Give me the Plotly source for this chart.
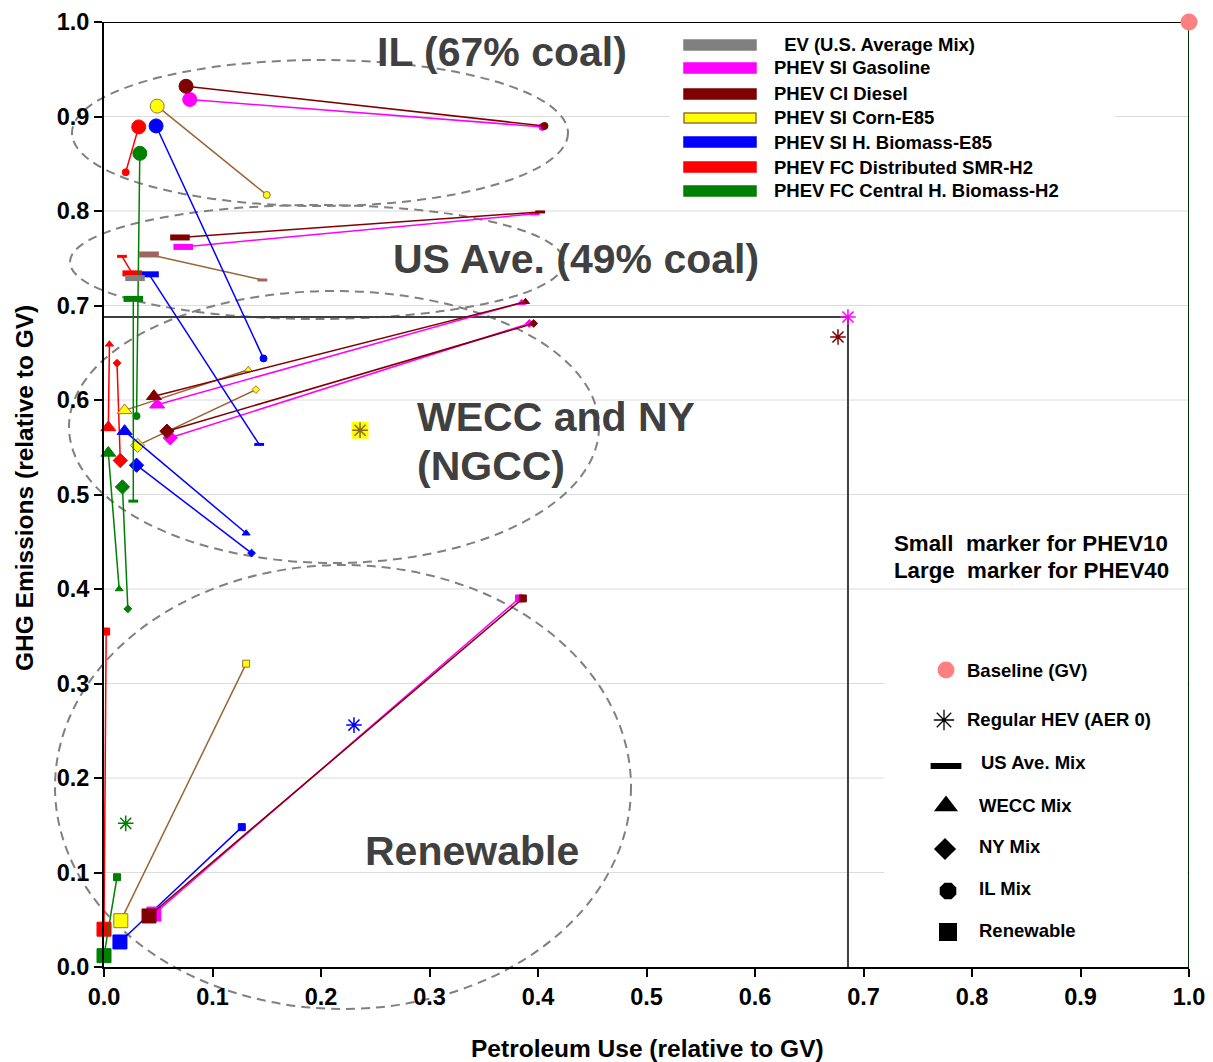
import plotly.graph_objects as go

# ---------------- DATA ----------------
# order of mixes in every array below
mixes = ["US Ave. Mix", "WECC Mix", "NY Mix", "IL Mix", "Renewable"]

# PHEV10 = small markers, PHEV40 = large markers  (x: petroleum use, y: GHG, relative to GV)
gas_p10_x = [0.397, 0.385, 0.392, 0.404, 0.3825]
gas_p10_y = [0.797, 0.703, 0.681, 0.889, 0.390]
gas_p40_x = [0.073, 0.049, 0.061, 0.079, 0.046]
gas_p40_y = [0.762, 0.595, 0.560, 0.918, 0.056]

die_p10_x = [0.402, 0.3885, 0.396, 0.406, 0.386]
die_p10_y = [0.799, 0.704, 0.681, 0.890, 0.390]
die_p40_x = [0.070, 0.046, 0.058, 0.0756, 0.0415]
die_p40_y = [0.772, 0.604, 0.567, 0.932, 0.054]

corn_p10_x = [0.146, 0.133, 0.140, 0.150, 0.131]
corn_p10_y = [0.727, 0.632, 0.611, 0.817, 0.321]
corn_p40_x = [0.0415, 0.019, 0.031, 0.049, 0.0155]
corn_p40_y = [0.754, 0.589, 0.552, 0.911, 0.049]

hbio_p10_x = [0.143, 0.131, 0.136, 0.147, 0.127]
hbio_p10_y = [0.553, 0.459, 0.438, 0.644, 0.148]
hbio_p40_x = [0.0415, 0.019, 0.030, 0.048, 0.0147]
hbio_p40_y = [0.733, 0.567, 0.531, 0.890, 0.0265]

smr_p10_x = [0.0166, 0.005, 0.012, 0.020, 0.002]
smr_p10_y = [0.752, 0.659, 0.639, 0.841, 0.355]
smr_p40_x = [0.026, 0.004, 0.015, 0.032, 0.0]
smr_p40_y = [0.734, 0.571, 0.536, 0.889, 0.040]

cbio_p10_x = [0.027, 0.014, 0.022, 0.030, 0.012]
cbio_p10_y = [0.493, 0.400, 0.379, 0.583, 0.095]
cbio_p40_x = [0.027, 0.004, 0.017, 0.033, 0.0]
cbio_p40_y = [0.707, 0.544, 0.508, 0.861, 0.012]

ev_x = [0.0286]
ev_y = [0.729]

# Regular HEV (AER 0)
hev_names = ["gas", "diesel", "corn", "hbio", "cbio"]
hev_x = [0.6857, 0.6765, 0.236, 0.2304, 0.020]
hev_y = [0.6878, 0.6667, 0.568, 0.256, 0.152]

# Baseline GV
base_x = [1.0]
base_y = [1.0]

legend_labels = [" EV (U.S. Average Mix)", "PHEV SI Gasoline", "PHEV CI Diesel",
                 "PHEV SI Corn-E85", "PHEV SI H. Biomass-E85",
                 "PHEV FC Distributed SMR-H2", "PHEV FC Central H. Biomass-H2"]
key_labels = ["Baseline (GV)", "Regular HEV (AER 0)", "US Ave. Mix", "WECC Mix",
              "NY Mix", "IL Mix", "Renewable"]
x_ticks = [0.0, 0.1, 0.2, 0.3, 0.4, 0.5, 0.6, 0.7, 0.8, 0.9, 1.0]
y_ticks = [0.0, 0.1, 0.2, 0.3, 0.4, 0.5, 0.6, 0.7, 0.8, 0.9, 1.0]

# ---------------- STYLE ----------------
FONT = "Liberation Sans, Arial, sans-serif"
OFF = 8                      # page body margin
W, H = 1213 - OFF, 1062 - OFF
L, R, T, B = 104, 1189, 22, 967   # plot area in screen pixels


def px(xp):
    return (xp - L) / (R - L)


def py(yp):
    return (B - yp) / (B - T)


techs = {
    "gas": dict(px=gas_p10_x, py=gas_p10_y, lx=gas_p40_x, ly=gas_p40_y,
                line="#FF00FF", fill="#FF00FF", edge="#FF00FF", dash="#FF00FF"),
    "diesel": dict(px=die_p10_x, py=die_p10_y, lx=die_p40_x, ly=die_p40_y,
                   line="#800000", fill="#800000", edge="#800000", dash="#800000"),
    "corn": dict(px=corn_p10_x, py=corn_p10_y, lx=corn_p40_x, ly=corn_p40_y,
                 line="#996633", fill="#FFFF00", edge="#A0703A", dash="#A0645F"),
    "hbio": dict(px=hbio_p10_x, py=hbio_p10_y, lx=hbio_p40_x, ly=hbio_p40_y,
                 line="#0000FF", fill="#0000FF", edge="#0000FF", dash="#0000FF"),
    "smr": dict(px=smr_p10_x, py=smr_p10_y, lx=smr_p40_x, ly=smr_p40_y,
                line="#FF0000", fill="#FF0000", edge="#FF0000", dash="#FF0000"),
    "cbio": dict(px=cbio_p10_x, py=cbio_p10_y, lx=cbio_p40_x, ly=cbio_p40_y,
                 line="#008000", fill="#008000", edge="#008000", dash="#008000"),
}

mix_symbol = ["line-ew-open", "triangle-up", "diamond", "circle", "square"]
mix_size = {  # (small, large)
    "line-ew-open": (7, 14),
    "triangle-up": (7, 13),
    "diamond": (6, 11),
    "circle": (7, 14),
    "square": (7, 14),
}

fig = go.Figure()

# guide lines (baseline and HEV)
fig.add_trace(go.Scatter(x=[0, base_x[0]], y=[base_y[0], base_y[0]], mode="lines",
                         line=dict(color="#000000", width=2), hoverinfo="skip",
                         showlegend=False, cliponaxis=False))
fig.add_trace(go.Scatter(x=[base_x[0], base_x[0]], y=[base_y[0], 0], mode="lines",
                         line=dict(color="#003300", width=2), hoverinfo="skip",
                         showlegend=False, cliponaxis=False))
fig.add_trace(go.Scatter(x=[0, hev_x[0], hev_x[0]], y=[hev_y[0], hev_y[0], 0], mode="lines",
                         line=dict(color="#404040", width=2), hoverinfo="skip",
                         showlegend=False, cliponaxis=False))

# PHEV pairs, draw order per mix so that upper markers sit on top
mix_order = [4, 2, 1, 0, 3]
tech_order = ["corn", "hbio", "smr", "cbio", "gas", "diesel"]
for mi in mix_order:
    sym = mix_symbol[mi]
    s_small, s_large = mix_size[sym]
    for tk in tech_order:
        t = techs[tk]
        if sym == "line-ew-open":
            marker = dict(symbol=sym, size=[s_small, s_large], color=t["dash"], opacity=1,
                          line=dict(color=t["dash"], width=[3, 6]))
        else:
            marker = dict(symbol=sym, size=[s_small, s_large], color=t["fill"], opacity=1,
                          line=dict(color=t["edge"], width=1))
        fig.add_trace(go.Scatter(
            x=[t["px"][mi], t["lx"][mi]], y=[t["py"][mi], t["ly"][mi]],
            mode="lines+markers", line=dict(color=t["line"], width=1.5),
            marker=marker, showlegend=False, cliponaxis=False,
            name=f"{tk} {mixes[mi]}"))

# EV
fig.add_trace(go.Scatter(x=ev_x, y=ev_y, mode="markers",
                         marker=dict(symbol="line-ew-open", size=14, color="#808080", opacity=1,
                                     line=dict(color="#808080", width=6)),
                         showlegend=False, cliponaxis=False, name="EV"))

# HEV asterisks
hev_color = {"gas": "#FF00FF", "diesel": "#800000", "corn": "#8C6A1A",
             "hbio": "#0000FF", "cbio": "#008000"}
ci = hev_names.index("corn")
fig.add_trace(go.Scatter(x=[hev_x[ci]], y=[hev_y[ci]], mode="markers",
                         marker=dict(symbol="square", size=17, color="#FFFF00", opacity=1,
                                     line=dict(width=0)),
                         showlegend=False, cliponaxis=False))
hev_cols = [hev_color[n] for n in hev_names]
fig.add_trace(go.Scatter(x=hev_x, y=hev_y, mode="markers",
                         marker=dict(symbol="asterisk-open", size=13, color=hev_cols, opacity=1,
                                     line=dict(color=hev_cols, width=1.5)),
                         showlegend=False, cliponaxis=False, name="HEV"))

# Baseline
fig.add_trace(go.Scatter(x=base_x, y=base_y, mode="markers",
                         marker=dict(symbol="circle", size=17, color="#FF8080", opacity=1),
                         showlegend=False, cliponaxis=False, name="Baseline"))

# ---------------- key (bottom right) ----------------
key_y_px = [670, 720, 766, 806, 849, 891, 932]
key_x_px = [946, 944, 946, 946, 945, 948, 948]
key_sym = ["circle", "asterisk-open", "line-ew-open", "triangle-up", "diamond", "octagon", "square"]
key_size = [17, 17, 22, 21, 17, 18, 18]
key_col = ["#FF8080", "#000000", "#000000", "#000000", "#000000", "#000000", "#000000"]
key_lw = [0, 1.3, 6, 0, 0, 0, 0]
fig.add_trace(go.Scatter(
    x=[px(v) for v in key_x_px], y=[py(v) for v in key_y_px], mode="markers",
    marker=dict(symbol=key_sym, size=key_size, color=key_col, opacity=1,
                line=dict(color=key_col, width=key_lw)),
    showlegend=False, cliponaxis=False, hoverinfo="skip"))

shapes = []
# gridlines
for v in y_ticks[1:-1]:
    shapes.append(dict(type="line", xref="paper", yref="paper", x0=0, x1=1, y0=v, y1=v,
                       line=dict(color="#DCDCDC", width=1), layer="below"))
# white legend boxes
shapes.append(dict(type="rect", xref="paper", yref="paper", x0=px(670), x1=px(1115),
                   y0=py(205), y1=py(30), fillcolor="white", line=dict(width=0), layer="below"))
shapes.append(dict(type="rect", xref="paper", yref="paper", x0=px(884), x1=px(1187),
                   y0=py(962), y1=py(598), fillcolor="white", line=dict(width=0), layer="below"))
# dashed ellipses
ell = [(72, 568, 60, 206), (70, 564, 205, 319), (69, 599, 291, 563), (55, 631, 565, 1009)]
for x0, x1, y0, y1 in ell:
    shapes.append(dict(type="circle", xref="paper", yref="paper",
                       x0=px(x0), x1=px(x1), y0=py(y1), y1=py(y0),
                       line=dict(color="#808080", width=2, dash="9px,6px"), layer="below"))

# top legend swatches
sw_y = [45, 68, 94, 118, 142, 167, 191]
sw_fill = ["#808080", "#FF00FF", "#800000", "#FFFF00", "#0000FF", "#FF0000", "#008000"]
sw_edge = ["#808080", "#FF00FF", "#800000", "#A0703A", "#0000FF", "#FF0000", "#008000"]
for yy, fc, ec in zip(sw_y, sw_fill, sw_edge):
    shapes.append(dict(type="rect", xref="paper", yref="paper",
                       x0=px(684), x1=px(756), y0=py(yy + 5), y1=py(yy - 5),
                       fillcolor=fc, line=dict(color=ec, width=1.5), layer="above"))

annotations = []
leg_x = [780, 775, 775, 775, 775, 775, 775]
for lbl, yy, xx in zip(legend_labels, sw_y, leg_x):
    annotations.append(dict(text=lbl, xref="paper", yref="paper", x=px(xx - 3), y=py(yy),
                            xanchor="left", yanchor="middle", showarrow=False,
                            font=dict(family=FONT, size=18.5, color="black", weight="bold")))
key_tx = [967, 967, 981, 979, 979, 979, 979]
key_ty = [670, 719, 762, 805, 846, 888, 930]
for lbl, xx, yy in zip(key_labels, key_tx, key_ty):
    annotations.append(dict(text=lbl, xref="paper", yref="paper", x=px(xx - 2), y=py(yy),
                            xanchor="left", yanchor="middle", showarrow=False,
                            font=dict(family=FONT, size=18.5, color="black", weight="bold")))
for txt, yy in [("Small  marker for PHEV10", 543), ("Large  marker for PHEV40", 571)]:
    annotations.append(dict(text=txt, xref="paper", yref="paper", x=px(892), y=py(yy),
                            xanchor="left", yanchor="middle", showarrow=False,
                            font=dict(family=FONT, size=22.3, color="black", weight="bold")))

big = dict(family=FONT, size=41, color="#404040", weight="bold")
annotations += [
    dict(text="IL (67% coal)", xref="paper", yref="paper", x=px(502), y=py(52),
         xanchor="center", yanchor="middle", showarrow=False, font=big),
    dict(text="US Ave. (49% coal)", xref="paper", yref="paper", x=px(576), y=py(259),
         xanchor="center", yanchor="middle", showarrow=False, font=big),
    dict(text="WECC and NY", xref="paper", yref="paper", x=px(415), y=py(417),
         xanchor="left", yanchor="middle", showarrow=False, font=big),
    dict(text="(NGCC)", xref="paper", yref="paper", x=px(415), y=py(466),
         xanchor="left", yanchor="middle", showarrow=False, font=big),
    dict(text="Renewable", xref="paper", yref="paper", x=px(472), y=py(851),
         xanchor="center", yanchor="middle", showarrow=False, font=big),
    dict(text="Petroleum Use (relative to GV)", xref="paper", yref="paper",
         x=px(647), y=py(1048), xanchor="center", yanchor="middle", showarrow=False,
         font=dict(family=FONT, size=24.5, color="black", weight="bold")),
    dict(text="GHG Emissions (relative to GV)", xref="paper", yref="paper",
         x=px(25), y=py(488), xanchor="center", yanchor="middle", showarrow=False,
         textangle=-90, font=dict(family=FONT, size=24.5, color="black", weight="bold")),
]

axis_common = dict(range=[0, 1], showgrid=False, zeroline=False, showline=True,
                   linecolor="black", linewidth=2, ticks="outside", ticklen=8,
                   tickcolor="black", tickwidth=1.5, tickformat=".1f",
                   tickfont=dict(family=FONT, size=23.5, color="black", weight="bold"),
                   automargin=False, fixedrange=True)

fig.update_layout(
    width=W, height=H,
    margin=dict(l=L - OFF, r=W - (R - OFF), t=T - OFF, b=H - (B - OFF), pad=0),
    paper_bgcolor="white", plot_bgcolor="white",
    xaxis=dict(tickvals=x_ticks, **axis_common),
    yaxis=dict(tickvals=y_ticks, **axis_common),
    shapes=shapes, annotations=annotations, showlegend=False,
)

fig.write_html("out.html")
